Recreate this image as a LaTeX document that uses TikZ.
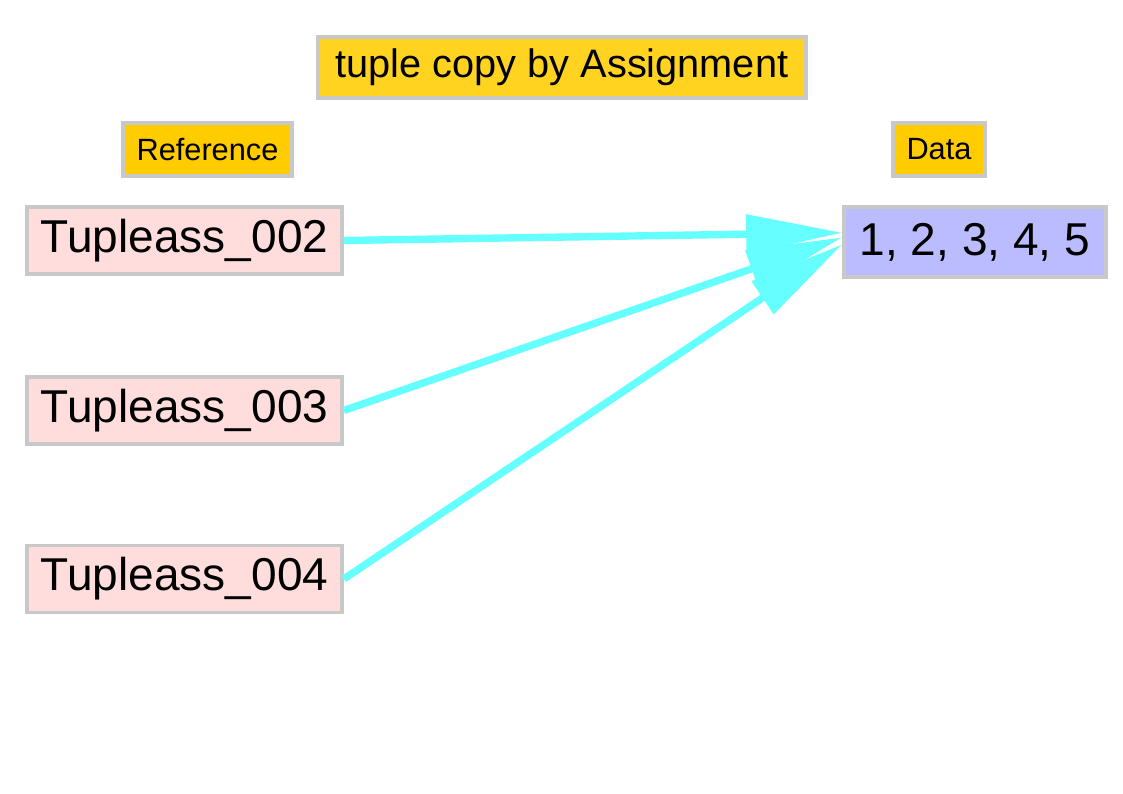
\documentclass[tikz,border=0pt]{standalone}
\usepackage{fontspec}
\setmainfont{Liberation Sans}
\usetikzlibrary{arrows.meta}
\definecolor{boxgrey}{HTML}{C8C8C8}
\definecolor{refpink}{HTML}{FFDDDD}
\definecolor{titleyellow}{HTML}{FFD320}
\definecolor{tagyellow}{HTML}{FFCC00}
\definecolor{valblue}{HTML}{BBBBFF}
\definecolor{arrowcyan}{HTML}{66FFFF}
\begin{document}
\begin{tikzpicture}[>={Triangle[length=1.92cm,width=0.76cm]},
	box/.style={draw=boxgrey,line width=2pt,inner sep=0pt,minimum height=1.34cm,
		font=\fontsize{26.2}{30}\selectfont},
	tag/.style={draw=boxgrey,line width=2pt,inner sep=0pt,fill=tagyellow,
		minimum height=1.06cm,font=\fontsize{17.5}{21}\selectfont}]
				% Frame
				\useasboundingbox (0,0) rectangle (22.46,-15.88);
				
				% Headers
				\node[tag,fill=titleyellow,minimum width=9.76cm,minimum height=1.22cm,
				font=\fontsize{22.6}{27}\selectfont] (title) at (11.24,-1.35) {tuple copy by Assignment\hspace{0.15cm}};
				\node[tag,minimum width=3.38cm] (reflabel) at (4.15,-2.99) {Reference};
				\node[tag,minimum width=1.84cm] (datalabel) at (18.78,-2.99) {Data};
				
				% Data
				\node[box,fill=valblue,minimum width=5.24cm,minimum height=1.4cm] (vals) at (19.5,-4.84) {1, 2, 3, 4, 5};
				
				% References and arrows
				\foreach \n/\y/\a in {002/-4.81/176, 003/-8.21/178, 004/-11.58/181}{
					\node[box,fill=refpink,minimum width=6.3cm] (t\n) at (3.69,\y) {Tupleass\_\n};
					\draw[->,line width=4.2pt,arrowcyan] (t\n.east) -- (vals.\a);
				}
			\end{tikzpicture}
\end{document}
